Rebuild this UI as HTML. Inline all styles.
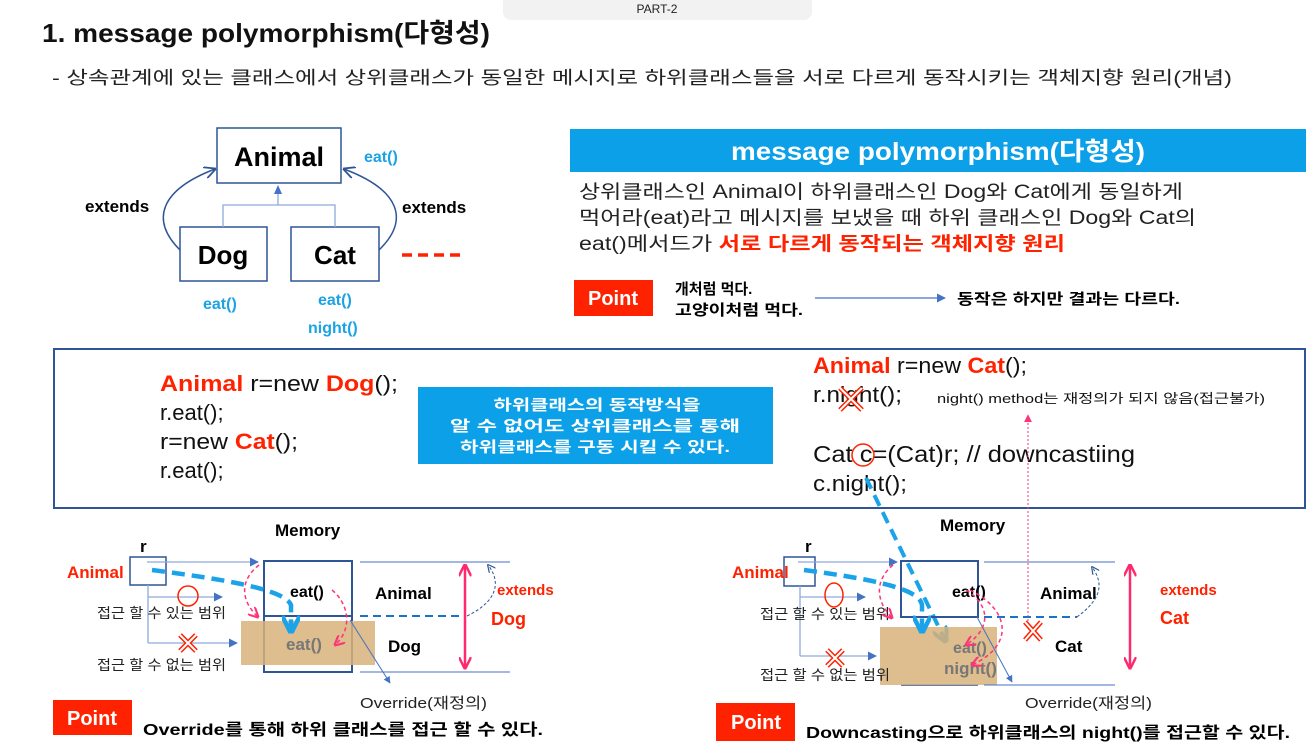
<!DOCTYPE html>
<html><head><meta charset="utf-8"><style>
html,body{margin:0;padding:0;background:#fff;width:1310px;height:754px;overflow:hidden}
svg{display:block}
text{font-family:"Liberation Sans","Noto Sans CJK KR",sans-serif}
.b{font-weight:bold}
</style></head><body>
<svg width="1310" height="754" viewBox="0 0 1310 754" xmlns="http://www.w3.org/2000/svg">
<defs>
<marker id="ab" viewBox="0 0 10 10" refX="9" refY="5" markerWidth="7" markerHeight="7" orient="auto"><path d="M0,0L10,5L0,10z" fill="#4472c4"/></marker>
<marker id="an" viewBox="0 0 10 10" refX="9" refY="5" markerWidth="8" markerHeight="8" orient="auto"><path d="M0,0L10,5L0,10" fill="none" stroke="#2f5597" stroke-width="1.5"/></marker>
<marker id="ap" viewBox="0 0 10 10" refX="9" refY="5" markerWidth="7" markerHeight="7" orient="auto"><path d="M0,0L10,5L0,10" fill="none" stroke="#ff3377" stroke-width="2"/></marker>
<marker id="app" viewBox="0 0 10 10" refX="9" refY="5" markerWidth="5" markerHeight="5" orient="auto-start-reverse"><path d="M0,0L10,5L0,10" fill="none" stroke="#ff2a6d" stroke-width="2"/></marker>
<marker id="ac" viewBox="0 0 10 10" refX="8" refY="5" markerWidth="4" markerHeight="4" orient="auto"><path d="M0,0L10,5L0,10" fill="none" stroke="#1aa3e8" stroke-width="2.5"/></marker>
<marker id="apt" viewBox="0 0 10 10" refX="9" refY="5" markerWidth="8" markerHeight="8" orient="auto"><path d="M0,0L10,5L0,10z" fill="#ff3377"/></marker>
</defs>

<rect x="503" y="-10" width="309" height="30" rx="8" fill="#f2f2f2"/>
<text x="657" y="13" font-size="12" text-anchor="middle" fill="#222">PART-2</text>
<text x="42" y="42" font-size="26" class="b" fill="#111" textLength="448" lengthAdjust="spacingAndGlyphs">1. message polymorphism(다형성)</text>
<text x="52" y="84" font-size="18" fill="#222" textLength="1180" lengthAdjust="spacingAndGlyphs">- 상속관계에 있는 클래스에서 상위클래스가 동일한 메시지로 하위클래스들을 서로 다르게 동작시키는 객체지향 원리(개념)</text>

<rect x="217" y="128" width="124" height="55" fill="#fff" stroke="#2f5597" stroke-width="1.5"/>
<text x="279" y="166" font-size="27" class="b" text-anchor="middle">Animal</text>
<rect x="180" y="227" width="87" height="54" fill="#fff" stroke="#2f5597" stroke-width="1.5"/>
<text x="223" y="264" font-size="26" class="b" text-anchor="middle">Dog</text>
<rect x="291" y="227" width="88" height="54" fill="#fff" stroke="#2f5597" stroke-width="1.5"/>
<text x="335" y="264" font-size="26" class="b" text-anchor="middle">Cat</text>
<path d="M223,227V205H335V227M278,205V187" fill="none" stroke="#8faadc" stroke-width="1.3"/>
<path d="M274,194L278,185L282,194z" fill="#4472c4"/>
<path d="M180,250C150,220 160,190 215,169" fill="none" stroke="#2f5597" stroke-width="1.5" marker-end="url(#an)"/>
<path d="M379,250C410,220 400,190 344,169" fill="none" stroke="#2f5597" stroke-width="1.5" marker-end="url(#an)"/>
<text x="85" y="212" font-size="17" class="b">extends</text>
<text x="402" y="213" font-size="17" class="b">extends</text>
<text x="364" y="162" font-size="16" class="b" fill="#1ba3e6">eat()</text>
<text x="203" y="309" font-size="16" class="b" fill="#1ba3e6">eat()</text>
<text x="318" y="305" font-size="16" class="b" fill="#1ba3e6">eat()</text>
<text x="308" y="333" font-size="16" class="b" fill="#1ba3e6">night()</text>
<path d="M402,255h58" stroke="#ff2200" stroke-width="3.5" stroke-dasharray="10,6"/>

<rect x="570" y="129" width="736" height="43" fill="#0ba0e8"/>
<text x="938" y="160" font-size="25" class="b" fill="#fff" text-anchor="middle" textLength="414" lengthAdjust="spacingAndGlyphs">message polymorphism(다형성)</text>
<text x="579" y="198" font-size="19" fill="#222" textLength="604" lengthAdjust="spacingAndGlyphs">상위클래스인 Animal이 하위클래스인 Dog와 Cat에게 동일하게</text>
<text x="579" y="224" font-size="19" fill="#222" textLength="617" lengthAdjust="spacingAndGlyphs">먹어라(eat)라고 메시지를 보냈을 때 하위 클래스인 Dog와 Cat의</text>
<text x="579" y="250" font-size="19" fill="#222" textLength="486" lengthAdjust="spacingAndGlyphs">eat()메서드가 <tspan fill="#ff2200" class="b">서로 다르게 동작되는 객체지향 원리</tspan></text>
<rect x="574" y="280" width="79" height="36" fill="#ff2200"/>
<text x="613" y="305" font-size="20" class="b" fill="#fff" text-anchor="middle">Point</text>
<text x="675" y="294" font-size="15" class="b">개처럼 먹다.</text>
<text x="675" y="315" font-size="15" class="b" textLength="128" lengthAdjust="spacingAndGlyphs">고양이처럼 먹다.</text>
<path d="M815,298H945" stroke="#4472c4" stroke-width="1.3" marker-end="url(#ab)"/>
<text x="957" y="304" font-size="15" class="b" textLength="223" lengthAdjust="spacingAndGlyphs">동작은 하지만 결과는 다르다.</text>

<rect x="54" y="349" width="1251" height="159" fill="none" stroke="#2f5597" stroke-width="2"/>
<text x="160" y="391" font-size="22" fill="#111" textLength="238" lengthAdjust="spacingAndGlyphs"><tspan fill="#ff2200" class="b">Animal</tspan> r=new <tspan fill="#ff2200" class="b">Dog</tspan>();</text>
<text x="160" y="420" font-size="22" fill="#111">r.eat();</text>
<text x="160" y="449" font-size="22" fill="#111" textLength="138" lengthAdjust="spacingAndGlyphs">r=new <tspan fill="#ff2200" class="b">Cat</tspan>();</text>
<text x="160" y="478" font-size="22" fill="#111">r.eat();</text>
<rect x="418" y="387" width="355" height="77" fill="#0ba0e8"/>
<text x="597" y="410" font-size="15" class="b" fill="#fff" text-anchor="middle" textLength="207" lengthAdjust="spacingAndGlyphs">하위클래스의 동작방식을</text>
<text x="595" y="431" font-size="15" class="b" fill="#fff" text-anchor="middle" textLength="290" lengthAdjust="spacingAndGlyphs">알 수 없어도 상위클래스를 통해</text>
<text x="595" y="452" font-size="15" class="b" fill="#fff" text-anchor="middle" textLength="270" lengthAdjust="spacingAndGlyphs">하위클래스를 구동 시킬 수 있다.</text>

<text x="813" y="373" font-size="22" fill="#111" textLength="214" lengthAdjust="spacingAndGlyphs"><tspan fill="#ff2200" class="b">Animal</tspan> r=new <tspan fill="#ff2200" class="b">Cat</tspan>();</text>
<text x="813" y="402" font-size="22" fill="#111" textLength="89" lengthAdjust="spacingAndGlyphs">r.night();</text>
<path d="M840,388L862,410M862,388L840,410" stroke="#ff2200" stroke-width="5"/>
<path d="M840,388L862,410M862,388L840,410" stroke="#fff" stroke-width="2"/>
<text x="937" y="403" font-size="13" fill="#111" textLength="328" lengthAdjust="spacingAndGlyphs">night() method는 재정의가 되지 않음(접근불가)</text>
<text x="813" y="462" font-size="23" fill="#111" textLength="322" lengthAdjust="spacingAndGlyphs">Cat c=(Cat)r; // downcastiing</text>
<circle cx="863" cy="455" r="11" fill="none" stroke="#ff2200" stroke-width="1.5"/>
<text x="813" y="491" font-size="22" fill="#111" textLength="94" lengthAdjust="spacingAndGlyphs">c.night();</text>
<path d="M1028,625V415" stroke="#ff3377" stroke-width="1" stroke-dasharray="2,2" marker-end="url(#apt)"/>
<path d="M866,478L945,640" stroke="#1aa3e8" stroke-width="4" stroke-dasharray="12,7" marker-end="url(#ac)"/>

<text x="275" y="536" font-size="17" class="b">Memory</text>
<text x="140" y="552" font-size="17" class="b">r</text>
<rect x="130" y="557" width="36" height="28" fill="#fff" stroke="#2f5597" stroke-width="1.5"/>
<text x="67" y="578" font-size="17" class="b" fill="#ff2200">Animal</text>
<rect x="264" y="561" width="88" height="111" fill="none" stroke="#2f5597" stroke-width="2"/>
<path d="M264,616H352" stroke="#2f5597" stroke-width="2"/>
<rect x="241" y="621" width="134" height="44" fill="#d8b27a" opacity="0.85"/>
<text x="290" y="597" font-size="16" class="b">eat()</text>
<text x="286" y="650" font-size="17" class="b" fill="#777">eat()</text>
<path d="M360,562H510M360,672H510" stroke="#4472c4" stroke-width="1"/>
<path d="M360,616H465" stroke="#1a73c8" stroke-width="2" stroke-dasharray="8,5"/>
<text x="375" y="599" font-size="17" class="b">Animal</text>
<text x="388" y="652" font-size="17" class="b">Dog</text>
<path d="M465,565V668" stroke="#ff2a6d" stroke-width="2.5" marker-start="url(#app)" marker-end="url(#app)"/>
<path d="M467,616C500,600 500,580 488,565" fill="none" stroke="#2f5597" stroke-dasharray="3,2" marker-end="url(#an)"/>
<text x="497" y="595" font-size="15" class="b" fill="#ff2200">extends</text>
<text x="491" y="625" font-size="18" class="b" fill="#ff2200">Dog</text>
<path d="M147,562H258" stroke="#8faadc" stroke-width="1.3" marker-end="url(#ab)"/>
<path d="M148,585V643" stroke="#8faadc" stroke-width="1.3"/>
<path d="M148,597H222" stroke="#8faadc" stroke-width="1.3" marker-end="url(#ab)"/>
<path d="M148,643H237" stroke="#8faadc" stroke-width="1.3" marker-end="url(#ab)"/>
<circle cx="188" cy="596" r="10" fill="none" stroke="#ff2200" stroke-width="1.5"/>
<path d="M180,635L196,651M196,635L180,651" stroke="#ff2200" stroke-width="5"/>
<path d="M180,635L196,651M196,635L180,651" stroke="#fff" stroke-width="2"/>
<text x="97" y="618" font-size="14" fill="#222" textLength="129" lengthAdjust="spacingAndGlyphs">접근 할 수 있는 범위</text>
<text x="97" y="670" font-size="14" fill="#222" textLength="129" lengthAdjust="spacingAndGlyphs">접근 할 수 없는 범위</text>
<path d="M350,620L390,683" stroke="#4472c4" stroke-width="1" marker-end="url(#ab)"/>
<text x="360" y="708" font-size="15" fill="#222" textLength="127" lengthAdjust="spacingAndGlyphs">Override(재정의)</text>
<path d="M152,570C230,580 285,590 291,605V630" fill="none" stroke="#1aa3e8" stroke-width="4.5" stroke-dasharray="13,7" marker-end="url(#ac)"/>
<path d="M259,565C240,580 240,600 258,617" fill="none" stroke="#ff3377" stroke-width="1.5" stroke-dasharray="4,3" marker-end="url(#ap)"/>
<path d="M332,590C350,605 352,630 335,645" fill="none" stroke="#ff3377" stroke-width="1.5" stroke-dasharray="4,3" marker-end="url(#ap)"/>
<rect x="53" y="700" width="79" height="35" fill="#ff2200"/>
<text x="92" y="725" font-size="20" class="b" fill="#fff" text-anchor="middle">Point</text>
<text x="143" y="735" font-size="16" class="b" textLength="400" lengthAdjust="spacingAndGlyphs">Override를 통해 하위 클래스를 접근 할 수 있다.</text>

<text x="940" y="531" font-size="17" class="b">Memory</text>
<text x="805" y="552" font-size="17" class="b">r</text>
<rect x="784" y="557" width="31" height="29" fill="#fff" stroke="#2f5597" stroke-width="1.5"/>
<text x="732" y="578" font-size="17" class="b" fill="#ff2200">Animal</text>
<rect x="901" y="561" width="77" height="56" fill="none" stroke="#2f5597" stroke-width="2"/>
<path d="M901,685H978" stroke="#2f5597" stroke-width="1.5"/>
<rect x="880" y="627" width="117" height="58" fill="#d8b27a" opacity="0.85"/>
<text x="952" y="597" font-size="16" class="b">eat()</text>
<text x="953" y="653" font-size="16" class="b" fill="#777">eat()</text>
<text x="944" y="674" font-size="17" class="b" fill="#777">night()</text>
<path d="M984,562H1115M984,685H1115" stroke="#4472c4" stroke-width="1"/>
<path d="M984,617H1077" stroke="#1a73c8" stroke-width="2" stroke-dasharray="8,5"/>
<text x="1040" y="599" font-size="17" class="b">Animal</text>
<text x="1055" y="652" font-size="17" class="b">Cat</text>
<path d="M1077,617C1100,600 1105,585 1092,567" fill="none" stroke="#2f5597" stroke-dasharray="3,2" marker-end="url(#an)"/>
<path d="M1130,565V668" stroke="#ff2a6d" stroke-width="2.5" marker-start="url(#app)" marker-end="url(#app)"/>
<text x="1160" y="595" font-size="15" class="b" fill="#ff2200">extends</text>
<text x="1160" y="624" font-size="18" class="b" fill="#ff2200">Cat</text>
<path d="M798,562H897" stroke="#8faadc" stroke-width="1.3" marker-end="url(#ab)"/>
<path d="M800,586V656" stroke="#8faadc" stroke-width="1.3"/>
<path d="M800,597H865" stroke="#8faadc" stroke-width="1.3" marker-end="url(#ab)"/>
<path d="M800,656H876" stroke="#8faadc" stroke-width="1.3" marker-end="url(#ab)"/>
<ellipse cx="834" cy="595" rx="9" ry="12" fill="none" stroke="#ff2200" stroke-width="1.5"/>
<path d="M827,650L843,666M843,650L827,666" stroke="#ff2200" stroke-width="5"/>
<path d="M827,650L843,666M843,650L827,666" stroke="#fff" stroke-width="2"/>
<path d="M1025,622L1041,640M1041,622L1025,640" stroke="#ff2200" stroke-width="5"/>
<path d="M1025,622L1041,640M1041,622L1025,640" stroke="#fff" stroke-width="2"/>
<text x="760" y="619" font-size="14" fill="#222" textLength="130" lengthAdjust="spacingAndGlyphs">접근 할 수 있는 범위</text>
<text x="760" y="680" font-size="14" fill="#222" textLength="130" lengthAdjust="spacingAndGlyphs">접근 할 수 없는 범위</text>
<path d="M977,617L1012,682" stroke="#4472c4" stroke-width="1" marker-end="url(#ab)"/>
<text x="1025" y="708" font-size="15" fill="#222" textLength="127" lengthAdjust="spacingAndGlyphs">Override(재정의)</text>
<path d="M804,570C880,580 920,590 922,605V630" fill="none" stroke="#1aa3e8" stroke-width="4.5" stroke-dasharray="13,7" marker-end="url(#ac)"/>
<path d="M893,565C875,580 875,600 892,618" fill="none" stroke="#ff3377" stroke-width="1.5" stroke-dasharray="4,3" marker-end="url(#ap)"/>
<path d="M966,590C990,605 992,628 966,645" fill="none" stroke="#ff3377" stroke-width="1.5" stroke-dasharray="4,3" marker-end="url(#ap)"/>
<path d="M970,590C1010,610 1015,645 972,665" fill="none" stroke="#ff3377" stroke-width="1.5" stroke-dasharray="4,3" marker-end="url(#ap)"/>
<rect x="716" y="703" width="79" height="38" fill="#ff2200"/>
<text x="756" y="729" font-size="20" class="b" fill="#fff" text-anchor="middle">Point</text>
<text x="806" y="738" font-size="16" class="b" textLength="484" lengthAdjust="spacingAndGlyphs">Downcasting으로 하위클래스의 night()를 접근할 수 있다.</text>
</svg>
</body></html>
